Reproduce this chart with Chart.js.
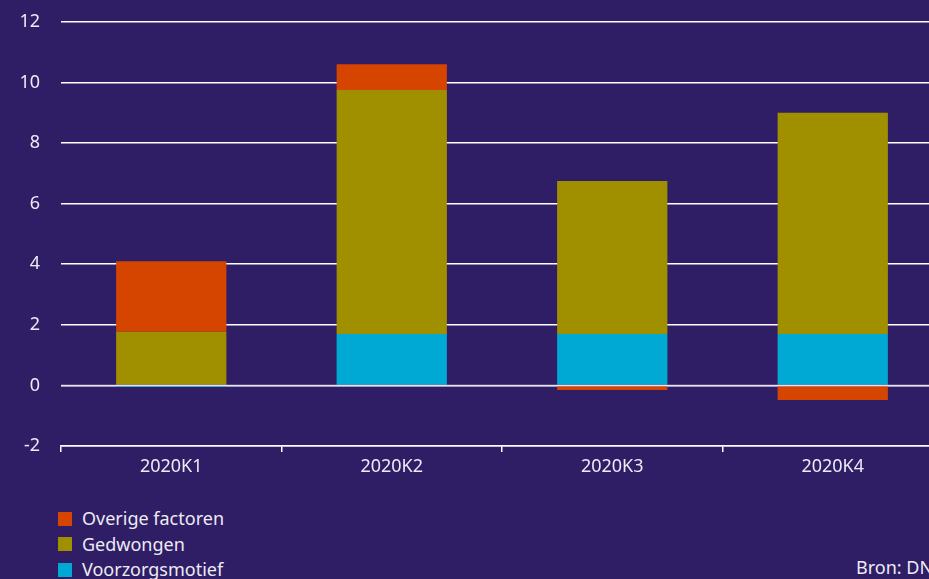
<!DOCTYPE html>
<html>
<head>
<meta charset="utf-8">
<script src="https://cdn.jsdelivr.net/npm/chart.js@4"></script>
<style>
  html, body { margin: 0; padding: 0; width: 929px; height: 579px; overflow: hidden; background: #2f1e66; }
  body { font-family: "Noto Sans", sans-serif; color: #ecebf3; position: relative; }
  #wrap { position: absolute; left: 0; top: -10px; width: 943px; height: 500px; }
  #legend { position: absolute; left: 58px; top: 506px; font-size: 18px; line-height: 25.5px; }
  #legend div { display: flex; align-items: center; white-space: nowrap; }
  #legend span.sw { display: inline-block; width: 14px; height: 14px; margin-right: 10px; }
  #source { position: absolute; left: 856px; top: 555px; font-size: 18px; white-space: nowrap; }
</style>
</head>
<body>
<div id="wrap"><canvas id="chart" width="943" height="500"></canvas></div>
<div id="legend"></div>
<div id="source">Bron: DNB</div>
<script>
// quarters on the x axis
const quarters = ['2020K1', '2020K2', '2020K3', '2020K4'];

// contributions per quarter (stacked)
const voorzorgsmotief = [-0.05, 1.70, 1.70, 1.70];
const gedwongen = [1.77, 8.05, 5.05, 7.30];
const overigeFactoren = [2.33, 0.85, -0.15, -0.48];

// y axis range
const yMin = -2;
const yMax = 12;
const yStep = 2;

const colors = {
    overige: '#d54500',
    gedwongen: '#a09000',
    voorzorg: '#00a9d4'
};

// zero line is drawn on top of the bars
const zeroLine = {
    id: 'zeroLine',
    afterDatasetsDraw(chart) {
        const { ctx, chartArea, scales } = chart;
        const y = Math.round(scales.y.getPixelForValue(0)) + 0.5;
        ctx.save();
        ctx.strokeStyle = 'rgba(225,222,238,0.85)';
        ctx.lineWidth = 1.5;
        ctx.beginPath();
        ctx.moveTo(chartArea.left, y);
        ctx.lineTo(chartArea.right, y);
        ctx.stroke();
        ctx.restore();
    }
};

const datasets = [
    { label: 'Voorzorgsmotief', data: voorzorgsmotief, backgroundColor: colors.voorzorg },
    { label: 'Gedwongen', data: gedwongen, backgroundColor: colors.gedwongen },
    { label: 'Overige factoren', data: overigeFactoren, backgroundColor: colors.overige }
];

const chart = new Chart(document.getElementById('chart').getContext('2d'), {
    type: 'bar',
    data: {
        labels: quarters,
        datasets: datasets.map(d => Object.assign({
            borderWidth: 0,
            categoryPercentage: 1,
            barPercentage: 0.5
        }, d))
    },
    options: {
        responsive: false,
        animation: false,
        layout: { padding: { top: 1, right: 0, left: 0, bottom: 0 } },
        plugins: {
            legend: { display: false },
            tooltip: { enabled: false }
        },
        scales: {
            x: {
                stacked: true,
                afterFit(scale) { scale.height = 44; },
                grid: {
                    offset: true,
                    drawOnChartArea: false,
                    drawTicks: true,
                    tickLength: 6,
                    color: '#ffffff',
                    lineWidth: 1.5
                },
                border: { display: true, color: '#ffffff', width: 1.5 },
                ticks: {
                    color: '#ecebf3',
                    font: { family: 'Noto Sans', size: 18 },
                    padding: 4,
                    maxRotation: 0
                }
            },
            y: {
                stacked: true,
                min: yMin,
                max: yMax,
                afterFit(scale) { scale.width = 61; },
                ticks: {
                    stepSize: yStep,
                    color: '#ecebf3',
                    font: { family: 'Noto Sans', size: 18 },
                    padding: 21
                },
                grid: {
                    color: '#ffffff',
                    lineWidth: 1.5,
                    drawTicks: false
                },
                border: { display: false }
            }
        }
    },
    plugins: [zeroLine]
});

// legend in a single column, top to bottom as stacked
const legend = document.getElementById('legend');
datasets.slice().reverse().forEach(d => {
    const row = document.createElement('div');
    row.innerHTML = `<span class="sw" style="background:${d.backgroundColor}"></span>${d.label}`;
    legend.appendChild(row);
});
</script>
</body>
</html>
